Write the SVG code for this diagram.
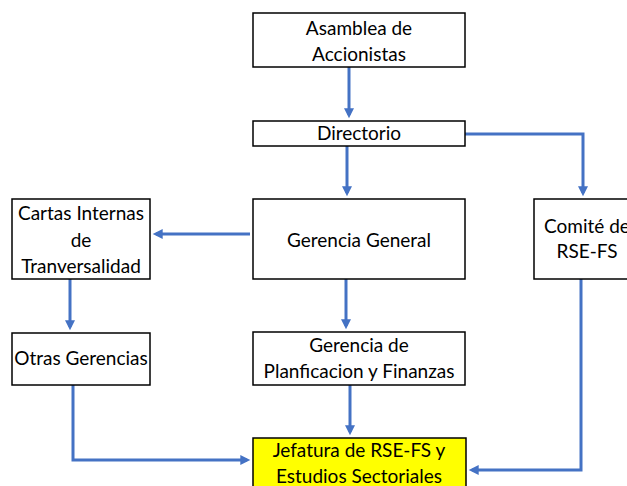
<svg xmlns="http://www.w3.org/2000/svg" width="627" height="486" viewBox="0 0 627 486">
<style>
.box{fill:#ffffff;stroke:#000000;stroke-width:1.5}
.yel{fill:#ffff00;stroke:#000000;stroke-width:1.5}
.t{font-family:Lato,"Liberation Sans",sans-serif;font-size:19px;fill:#000000;text-anchor:middle}
.c{fill:none;stroke:#4472c4;stroke-width:3;marker-end:url(#ah)}
</style>
<defs>
<marker id="ah" markerWidth="11" markerHeight="10" refX="6" refY="4.5" orient="auto" markerUnits="userSpaceOnUse" viewBox="0 0 9 9">
<path d="M0,0 L9,4.5 L0,9 Z" fill="#4472c4"/>
</marker>
</defs>
<rect width="627" height="486" fill="#ffffff"/>
<g id="connectors">
<path class="c" d="M349,67 V115"/>
<path class="c" d="M347,146 V193"/>
<path class="c" d="M465,134 H583 V193"/>
<path class="c" d="M250,234 H156"/>
<path class="c" d="M70,279 V327"/>
<path class="c" d="M346,279 V326"/>
<path class="c" d="M350,385 V432"/>
<path class="c" d="M73,385 V460 H247"/>
<path class="c" d="M581,279 V470 H472"/>
</g>
<g id="asamblea"><rect class="box" x="253" y="13" width="212" height="54"/><text class="t" x="359" y="35">Asamblea de</text><text class="t" x="359" y="61">Accionistas</text></g>
<g id="directorio"><rect class="box" x="253" y="121" width="212" height="25"/><text class="t" x="359" y="140">Directorio</text></g>
<g id="gerencia-general"><rect class="box" x="253" y="199" width="212" height="80"/><text class="t" x="359" y="247">Gerencia General</text></g>
<g id="comite"><rect class="box" x="534" y="199" width="106" height="80"/><text class="t" x="587" y="233">Comité de</text><text class="t" x="587" y="258">RSE-FS</text></g>
<g id="cartas"><rect class="box" x="12" y="199" width="138" height="80"/><text class="t" x="81" y="220">Cartas Internas</text><text class="t" x="81" y="247">de</text><text class="t" x="81" y="273">Tranversalidad</text></g>
<g id="otras"><rect class="box" x="12" y="333" width="138" height="52"/><text class="t" x="81" y="365">Otras Gerencias</text></g>
<g id="planificacion"><rect class="box" x="253" y="332" width="212" height="53"/><text class="t" x="359" y="352">Gerencia de</text><text class="t" x="359" y="378">Planficacion y Finanzas</text></g>
<g id="jefatura"><rect class="yel" x="253" y="438" width="213" height="60"/><text class="t" x="359" y="457">Jefatura de RSE-FS y</text><text class="t" x="359" y="483">Estudios Sectoriales</text></g>
</svg>
